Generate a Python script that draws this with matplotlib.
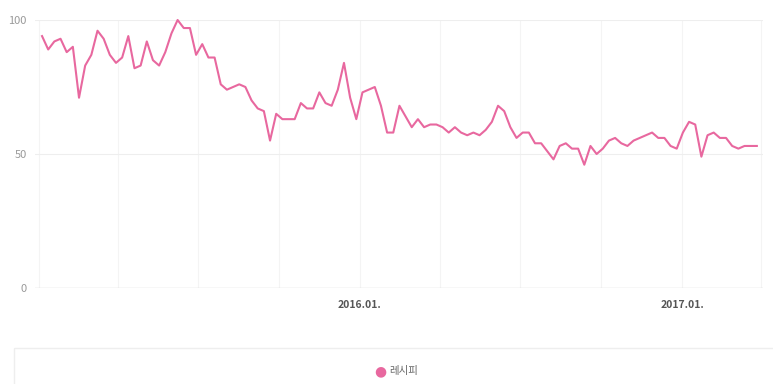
import matplotlib
matplotlib.use("Agg")
import matplotlib.pyplot as plt
import matplotlib.dates as mdates
from matplotlib.patches import Rectangle
import pandas as pd

plt.rcParams['font.family'] = ['Noto Sans CJK KR', 'DejaVu Sans']

# 주간 검색 지수 (2015-01-05 ~ 2017-03-27)
start_week = "2015-01-05"
series_name = "레시피"
values = [
    94, 89, 92, 93, 88, 90, 71, 83, 87, 96,
    93, 87, 84, 86, 94, 82, 83, 92, 85, 83,
    88, 95, 100, 97, 97, 87, 91, 86, 86, 76,
    74, 75, 76, 75, 70, 67, 66, 55, 65, 63,
    63, 63, 69, 67, 67, 73, 69, 68, 74, 84,
    71, 63, 73, 74, 75, 68, 58, 58, 68, 64,
    60, 63, 60, 61, 61, 60, 58, 60, 58, 57,
    58, 57, 59, 62, 68, 66, 60, 56, 58, 58,
    54, 54, 51, 48, 53, 54, 52, 52, 46, 53,
    50, 52, 55, 56, 54, 53, 55, 56, 57, 58,
    56, 56, 53, 52, 58, 62, 61, 49, 57, 58,
    56, 56, 53, 52, 53, 53, 53,
]
y_ticks = [0, 50, 100]

dates = pd.date_range(start_week, periods=len(values), freq="7D")

W, H = 773, 384
fig = plt.figure(figsize=(W / 100, H / 100), dpi=100)
ax = fig.add_axes([35 / W, 1 - 288 / H, (763 - 35) / W, (288 - 20) / H])

ax.plot(dates, values, color="#e8689f", linewidth=1.5, clip_on=False, zorder=3)

ax.set_ylim(0, 100)
ax.set_xlim(pd.Timestamp("2014-12-28"), pd.Timestamp("2017-04-03"))
ax.set_yticks(y_ticks)

ax.xaxis.set_major_locator(mdates.YearLocator(month=1, day=1))
ax.xaxis.set_major_formatter(mdates.DateFormatter("%Y.%m."))
ax.xaxis.set_minor_locator(mdates.MonthLocator(bymonth=[1, 4, 7, 10]))
# 2015.01은 라벨 없음
ax.set_xticks([pd.Timestamp("2016-01-01"), pd.Timestamp("2017-01-01")])

for s in ax.spines.values():
    s.set_visible(False)

ax.tick_params(axis="both", which="both", length=0)
ax.tick_params(axis="y", labelsize=8, labelcolor="#999999", pad=6)
ax.tick_params(axis="x", labelsize=7.5, labelcolor="#555555", pad=9)
for lab in ax.get_xticklabels():
    lab.set_fontweight("bold")

ax.grid(axis="y", color="#eeeeee", linewidth=0.8)
ax.grid(axis="x", which="both", color="#f4f4f4", linewidth=0.8)
ax.axhline(0, color="#dddddd", linewidth=1, zorder=2)

# 범례 박스
fig.patches.append(Rectangle((14 / W, 1 - 400 / H), 800 / W, 52 / H,
                             transform=fig.transFigure, facecolor="white",
                             edgecolor="#eeeeee", linewidth=1, clip_on=False))
fig.text(380 / W, 1 - 371 / H, "●", color="#e8689f", fontsize=10,
         ha="center", va="center", family=["DejaVu Sans"])
fig.text(389 / W, 1 - 371 / H, series_name, color="#666666", fontsize=7.5,
         ha="left", va="center")

fig.savefig("out.png", dpi=100)
